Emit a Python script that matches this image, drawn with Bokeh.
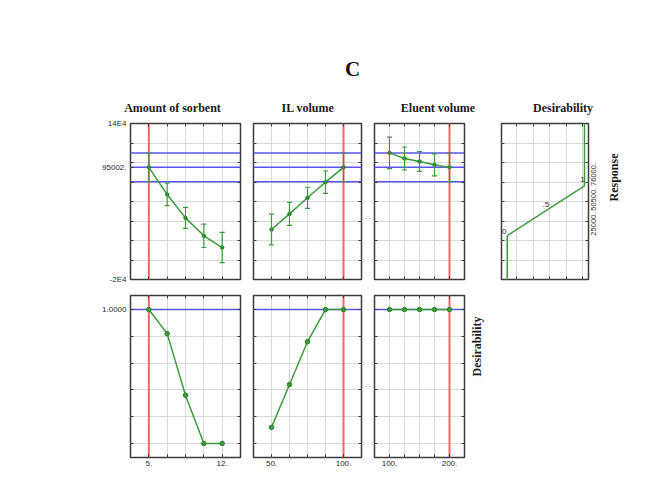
import math
from bokeh.plotting import figure
from bokeh.models import (Range1d, LinearAxis, FixedTicker, Span, Whisker, TeeHead,
                          ColumnDataSource)
from bokeh.layouts import column, row
from bokeh.core.properties import value
from bokeh.embed import file_html
from bokeh.resources import INLINE

# ---------------- data ----------------
chart_title = "C"
column_titles = ["Amount of sorbent", "IL volume", "Eluent volume", "Desirability"]

sorbent_x = [5.0, 6.75, 8.5, 10.25, 12.0]
sorbent_resp = [95002, 67200, 43200, 24800, 12800]
sorbent_err = [14700, 11500, 10800, 12000, 15500]
sorbent_desir = [1.0, 0.82, 0.36, 0.0, 0.0]

il_x = [50.0, 62.5, 75.0, 87.5, 100.0]
il_resp = [31300, 47300, 63800, 79800, 95002]
il_err = [15700, 11800, 10800, 11500, 14700]
il_desir = [0.12, 0.44, 0.76, 1.0, 1.0]

eluent_x = [100.0, 125.0, 150.0, 175.0, 200.0]
eluent_resp = [109900, 104100, 101000, 97600, 95002]
eluent_err = [16200, 11800, 10100, 11300, 14700]
eluent_desir = [1.0, 1.0, 1.0, 1.0, 1.0]

current_x = [5.0, 100.0, 200.0]
predicted = 95002
predicted_ci = 14700
current_desirability = 1.0

resp_grid = [-20000, 0, 20000, 40000, 60000, 80000, 100000, 120000, 140000]
resp_labels = {-20000: "-2E4", 95002: "95002.", 140000: "14E4"}
desir_grid = [0.0, 0.2, 0.4, 0.6, 0.8, 1.0]
desir_labels = {1.0: "1.0000"}
x_labels = [{5.0: "5.", 12.0: "12."},
            {50.0: "50.", 100.0: "100."},
            {100.0: "100.", 200.0: "200."}]

desir_fn_resp = [-20000, 25000, 76000, 140000]
desir_fn_val = [0.0, 0.0, 1.0, 1.0]
desir_fn_marks = [0.0, 0.5, 1.0]
desir_fn_mark_resp = [25000, 50500, 76000]
desir_fn_mark_text = ["0", ".5", "1"]
desir_fn_grid = [0.12, 0.335, 0.55, 0.765, 0.98]
resp_axis_labels = {25000: "25000.", 50500: "50500.", 76000: "76000."}

# ---------------- style ----------------
FRAME = "#3b3b3b"
GRID = "#d9d9d9"
GREEN = "#3a9d3a"
DKGREEN = "#2b7f2b"
RED = "#f26767"
BLUE = "#5757ef"
LABEL = "#2b2b2b"
SANS = "Liberation Sans"
SERIF = "Liberation Serif"


def make_axis(ax, ticks, minor, labels=None, size="8px", standoff=4):
    ax.ticker = FixedTicker(ticks=list(ticks), minor_ticks=list(minor))
    ax.axis_line_color = None
    ax.major_tick_in = 3
    ax.major_tick_out = 0
    ax.minor_tick_in = 3
    ax.minor_tick_out = 0
    ax.major_tick_line_color = FRAME
    ax.minor_tick_line_color = FRAME
    if labels:
        ax.major_label_overrides = dict(labels)
        ax.major_label_text_font = SANS
        ax.major_label_text_font_size = size
        ax.major_label_text_color = LABEL
        ax.major_label_standoff = standoff
    else:
        ax.major_label_text_font_size = "0px"
        ax.major_label_standoff = 0


def make_panel(width, height, xr, yr, borders, xgrid, ygrid):
    l, r, t, b = borders
    p = figure(width=width, height=height, x_range=Range1d(*xr), y_range=Range1d(*yr),
               output_backend="svg", toolbar_location=None,
               min_border_left=l, min_border_right=r, min_border_top=t, min_border_bottom=b)
    p.outline_line_color = FRAME
    p.outline_line_width = 1.5
    p.background_fill_color = "white"
    p.border_fill_color = "white"
    p.xgrid.ticker = FixedTicker(ticks=list(xgrid))
    p.ygrid.ticker = FixedTicker(ticks=list(ygrid))
    p.grid.grid_line_color = GRID
    p.grid.grid_line_width = 1
    above = LinearAxis()
    right = LinearAxis()
    p.add_layout(above, "above")
    p.add_layout(right, "right")
    return p, p.below[0], p.left[0], above, right


TOP_H = 171
BOT_H = 185


def response_panel(width, xs, ys, errs, cur, xr, borders, left_labels=None):
    p, bottom, left, above, right = make_panel(width, TOP_H, xr, (-20000, 140000),
                                               borders, xs, resp_grid)
    make_axis(bottom, [], xs)
    make_axis(above, [], xs)
    if left_labels:
        make_axis(left, list(left_labels), resp_grid, left_labels, "8px", 4)
    else:
        make_axis(left, [], resp_grid)
    make_axis(right, [], resp_grid)
    p.add_layout(Span(location=cur, dimension="height", line_color=RED,
                      line_width=2, level="underlay"))
    for v in (predicted - predicted_ci, predicted, predicted + predicted_ci):
        p.add_layout(Span(location=v, dimension="width", line_color=BLUE,
                          line_width=1.5, level="underlay"))
    src = ColumnDataSource(dict(x=xs, y=ys,
                                lo=[y - e for y, e in zip(ys, errs)],
                                hi=[y + e for y, e in zip(ys, errs)]))
    p.add_layout(Whisker(source=src, base="x", lower="lo", upper="hi", dimension="height",
                         line_color=GREEN, line_width=1.2, level="glyph",
                         upper_head=TeeHead(size=5, line_color=GREEN, line_width=1.2),
                         lower_head=TeeHead(size=5, line_color=GREEN, line_width=1.2)))
    p.line("x", "y", source=src, line_color=GREEN, line_width=1.5)
    p.scatter("x", "y", source=src, size=3.5, color=DKGREEN)
    return p


def desir_panel(width, xs, ds, cur, xr, borders, xlab, left_labels=None):
    p, bottom, left, above, right = make_panel(width, BOT_H, xr, (-0.105, 1.105),
                                               borders, xs, desir_grid)
    make_axis(bottom, list(xlab), xs, xlab, "8px", 3)
    make_axis(above, [], xs)
    if left_labels:
        make_axis(left, list(left_labels), desir_grid, left_labels, "8px", 4)
    else:
        make_axis(left, [], desir_grid)
    make_axis(right, [], desir_grid)
    p.add_layout(Span(location=cur, dimension="height", line_color=RED,
                      line_width=2, level="underlay"))
    p.add_layout(Span(location=current_desirability, dimension="width", line_color=BLUE,
                      line_width=1.5, level="underlay"))
    p.line(xs, ds, line_color=GREEN, line_width=1.5)
    p.scatter(xs, ds, size=4.5, fill_color=GREEN, line_color=DKGREEN, line_width=1)
    return p, right


# ---------------- header ----------------
hdr = figure(width=645, height=116, x_range=Range1d(0, 645), y_range=Range1d(116, 0),
             output_backend="svg", toolbar_location=None, min_border=0,
             x_axis_location=None, y_axis_location=None)
hdr.grid.visible = False
hdr.outline_line_color = None
hdr.text(x=[352], y=[68], text=[chart_title], text_font=value(SERIF),
         text_font_style="bold", text_font_size="21px", text_align="center",
         text_baseline="middle", text_color="#111111")
hdr.text(x=[172, 307.5, 437.5, 562.5], y=[107] * 4, text=column_titles,
         text_font=value(SERIF), text_font_style="bold", text_font_size="12px",
         text_align="center", text_baseline="middle", text_color="#1a1a1a")

# ---------------- top row ----------------
t1 = response_panel(246, sorbent_x, sorbent_resp, sorbent_err, current_x[0],
                    (3.25, 13.75), (130, 6, 7, 8), resp_labels)
t2 = response_panel(121, il_x, il_resp, il_err, current_x[1],
                    (37.5, 112.5), (7, 6, 7, 8))
t3 = response_panel(113, eluent_x, eluent_resp, eluent_err, current_x[2],
                    (75, 225), (7, 16, 7, 8))

t4, b4, l4, a4, r4 = make_panel(165, TOP_H, (-0.074, 1.052), (-20000, 140000),
                                (21, 57, 7, 8), desir_fn_grid, resp_grid)
make_axis(b4, [], desir_fn_grid)
make_axis(a4, [], desir_fn_grid)
make_axis(l4, [], resp_grid)
make_axis(r4, list(resp_axis_labels), resp_grid, resp_axis_labels, "7.5px", 5)
r4.major_tick_in = 0
r4.major_label_orientation = math.pi / 2
r4.axis_label = "Response"
r4.axis_label_text_font = SERIF
r4.axis_label_text_font_style = "bold"
r4.axis_label_text_font_size = "12px"
r4.axis_label_text_color = "#1a1a1a"
r4.axis_label_standoff = 12
r4.axis_label_orientation = math.pi / 2
t4.line(desir_fn_val, desir_fn_resp, line_color=GREEN, line_width=1.5)
t4.text(x=desir_fn_marks, y=desir_fn_mark_resp, text=desir_fn_mark_text,
        text_font=value(SANS), text_font_size="8px", text_color=LABEL,
        text_align="center", text_baseline="middle",
        x_offset=[-3, 0, -2], y_offset=[-4, -6, -6])

# ---------------- bottom row ----------------
b1, _ = desir_panel(246, sorbent_x, sorbent_desir, current_x[0], (3.25, 13.75),
                    (130, 6, 8, 15), x_labels[0], desir_labels)
b2, _ = desir_panel(121, il_x, il_desir, current_x[1], (37.5, 112.5),
                    (7, 6, 8, 15), x_labels[1])
b3, rb3 = desir_panel(140, eluent_x, eluent_desir, current_x[2], (75, 225),
                      (7, 43, 8, 15), x_labels[2])
rb3.axis_label = "Desirability"
rb3.axis_label_text_font = SERIF
rb3.axis_label_text_font_style = "bold"
rb3.axis_label_text_font_size = "12px"
rb3.axis_label_text_color = "#1a1a1a"
rb3.axis_label_standoff = 12
rb3.axis_label_orientation = math.pi / 2

layout = column(hdr, row(t1, t2, t3, t4), row(b1, b2, b3))

open("out.html", "w").write(file_html(layout, INLINE))
